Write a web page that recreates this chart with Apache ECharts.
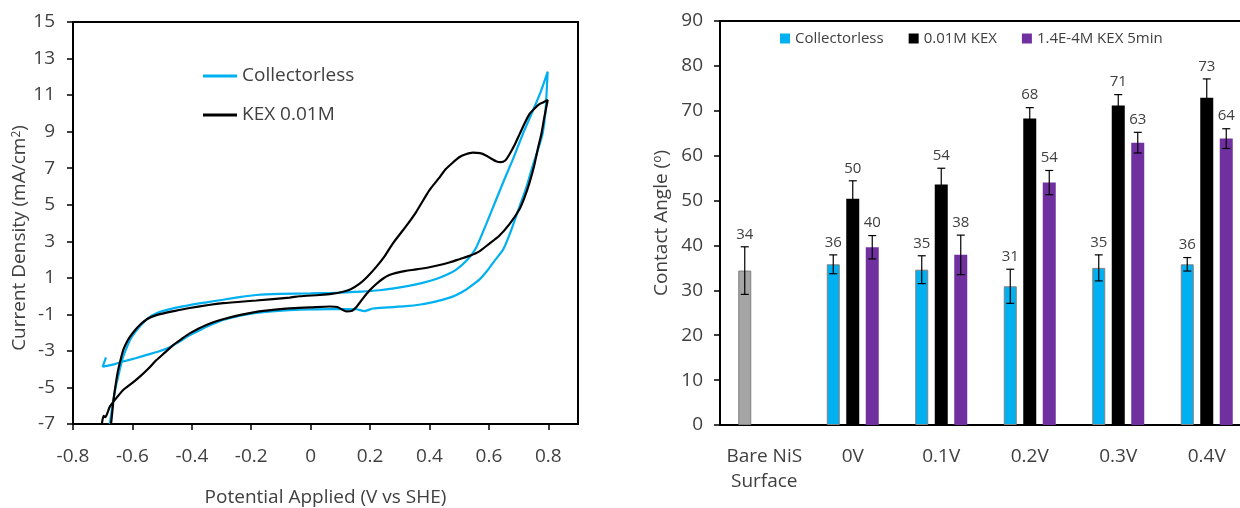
<!DOCTYPE html>
<html>
<head>
<meta charset="utf-8">
<script src="https://cdn.jsdelivr.net/npm/echarts@6/dist/echarts.min.js"></script>
<style>
html, body { margin: 0; padding: 0; background: #fff; }
#main { width: 1240px; height: 508px; }
</style>
</head>
<body>
<div id="main"></div>
<script>
// left panel: cyclic voltammograms [potential, current density]
var cvNames = ['Collectorless', 'KEX 0.01M'];
var collectorlessCV = [
    [-0.689, -3.35], [-0.700, -3.86], [-0.660, -3.72], [-0.631, -3.58], [-0.590, -3.40], [-0.552, -3.22],
    [-0.510, -3.02], [-0.474, -2.80], [-0.440, -2.48], [-0.407, -2.13], [-0.375, -1.88], [-0.351, -1.68],
    [-0.320, -1.47], [-0.295, -1.31], [-0.240, -1.09], [-0.183, -0.92], [-0.120, -0.82], [-0.071, -0.77],
    [0.000, -0.73], [0.064, -0.71], [0.120, -0.71], [0.154, -0.72], [0.181, -0.82], [0.210, -0.68],
    [0.260, -0.62], [0.321, -0.55], [0.370, -0.46], [0.400, -0.37], [0.440, -0.22], [0.478, -0.03],
    [0.510, 0.22], [0.534, 0.48], [0.568, 0.90], [0.595, 1.40], [0.620, 1.95], [0.648, 2.55],
    [0.675, 3.60], [0.703, 4.90], [0.725, 5.90], [0.747, 7.10], [0.765, 8.00], [0.781, 8.90],
    [0.790, 10.00], [0.798, 12.28], [0.775, 11.20], [0.747, 10.10], [0.715, 8.90], [0.680, 7.45],
    [0.650, 6.30], [0.624, 5.26], [0.590, 3.90], [0.557, 2.65], [0.525, 1.95], [0.490, 1.45],
    [0.456, 1.15], [0.420, 0.92], [0.380, 0.74], [0.330, 0.56], [0.280, 0.42], [0.232, 0.32],
    [0.170, 0.24], [0.120, 0.20], [0.060, 0.17], [0.000, 0.15], [-0.104, 0.12], [-0.183, 0.06],
    [-0.240, -0.06], [-0.295, -0.20], [-0.350, -0.34], [-0.407, -0.49], [-0.460, -0.66], [-0.519, -0.94],
    [-0.550, -1.25], [-0.575, -1.66], [-0.592, -2.00], [-0.608, -2.40], [-0.620, -2.85], [-0.631, -3.32],
    [-0.640, -3.85], [-0.648, -4.41], [-0.656, -4.95], [-0.662, -5.50], [-0.669, -6.20], [-0.676, -7.00]
];
var kexCV = [
    [-0.703, -7.00], [-0.697, -6.55], [-0.691, -6.62], [-0.683, -6.35], [-0.676, -6.05], [-0.655, -5.60],
    [-0.631, -5.14], [-0.600, -4.75], [-0.575, -4.41], [-0.545, -3.95], [-0.519, -3.50], [-0.490, -3.08],
    [-0.463, -2.68], [-0.435, -2.35], [-0.407, -2.04], [-0.351, -1.58], [-0.295, -1.27], [-0.240, -1.04],
    [-0.183, -0.86], [-0.120, -0.74], [-0.071, -0.67], [0.000, -0.62], [0.064, -0.57], [0.090, -0.60],
    [0.120, -0.84], [0.140, -0.80], [0.154, -0.60], [0.175, -0.15], [0.198, 0.30], [0.220, 0.65],
    [0.243, 0.95], [0.265, 1.15], [0.288, 1.27], [0.320, 1.38], [0.355, 1.46], [0.400, 1.58],
    [0.434, 1.70], [0.470, 1.85], [0.501, 2.02], [0.535, 2.20], [0.568, 2.45], [0.600, 2.85],
    [0.635, 3.30], [0.670, 3.95], [0.703, 4.75], [0.720, 5.40], [0.736, 6.17], [0.752, 7.10],
    [0.764, 8.00], [0.777, 8.90], [0.787, 9.82], [0.798, 10.73], [0.782, 10.60], [0.770, 10.50],
    [0.753, 10.25], [0.736, 9.95], [0.720, 9.45], [0.703, 8.85], [0.686, 8.25], [0.669, 7.75],
    [0.655, 7.42], [0.640, 7.33], [0.624, 7.38], [0.605, 7.55], [0.590, 7.70], [0.570, 7.82],
    [0.546, 7.85], [0.520, 7.75], [0.500, 7.60], [0.478, 7.30], [0.455, 6.95], [0.434, 6.50],
    [0.400, 5.80], [0.355, 4.60], [0.320, 3.80], [0.277, 2.89], [0.250, 2.20], [0.221, 1.60],
    [0.190, 1.05], [0.165, 0.68], [0.135, 0.38], [0.109, 0.24], [0.070, 0.12], [0.030, 0.06],
    [-0.037, -0.01], [-0.071, -0.08], [-0.183, -0.24], [-0.295, -0.39], [-0.407, -0.65], [-0.460, -0.82],
    [-0.519, -1.04], [-0.550, -1.25], [-0.575, -1.58], [-0.592, -1.88], [-0.608, -2.22], [-0.620, -2.55],
    [-0.631, -2.95], [-0.640, -3.50], [-0.648, -4.05], [-0.654, -4.60], [-0.659, -5.14], [-0.664, -5.70],
    [-0.667, -6.23], [-0.672, -7.00]
];

// right panel: contact angles
var surfaces = ['Bare NiS\nSurface', '0V', '0.1V', '0.2V', '0.3V', '0.4V'];
var barNames = ['Collectorless', '0.01M KEX', '1.4E-4M KEX 5min'];
var collectorlessAngle = [34.4, 35.8, 34.6, 30.9, 35.0, 35.8];
var collectorlessErr = [5.3, 2.1, 3.1, 3.8, 2.9, 1.5];
var kexAngle = [null, 50.4, 53.6, 68.3, 71.2, 72.9];
var kexErr = [null, 4.0, 3.6, 2.4, 2.4, 4.2];
var kex5Angle = [null, 39.6, 37.9, 54.0, 62.9, 63.8];
var kex5Err = [null, 2.6, 4.4, 2.7, 2.3, 2.2];

var font = 'Open Sans';
var txt = '#404040';
var cyan = '#00B0F0';
var purple = '#7030A0';

function errorBars(values, errs, shift) {
    var data = [];
    values.forEach(function (v, i) {
        if (v !== null) {
            data.push([i, v, errs[i]]);
        }
    });
    return {
        type: 'custom',
        xAxisIndex: 1,
        yAxisIndex: 1,
        z: 10,
        silent: true,
        data: data,
        encode: { x: 0, y: 1 },
        renderItem: function (params, api) {
            var v = api.value(1), e = api.value(2);
            var hi = api.coord([api.value(0), v + e]);
            var lo = api.coord([api.value(0), v - e]);
            var x = hi[0] + shift;
            var st = { stroke: '#000', lineWidth: 1.2 };
            return {
                type: 'group',
                children: [
                    { type: 'line', shape: { x1: x, y1: hi[1], x2: x, y2: lo[1] }, style: st },
                    { type: 'line', shape: { x1: x - 4, y1: hi[1], x2: x + 4, y2: hi[1] }, style: st },
                    { type: 'line', shape: { x1: x - 4, y1: lo[1], x2: x + 4, y2: lo[1] }, style: st },
                    {
                        type: 'text', x: x, y: hi[1] - 5,
                        style: {
                            text: String(Math.round(v)), fill: txt, fontSize: 15, fontFamily: font,
                            align: 'center', verticalAlign: 'bottom',
                            textAlign: 'center', textVerticalAlign: 'bottom'
                        }
                    }
                ]
            };
        }
    };
}

var myChart = echarts.init(document.getElementById('main'));

var option = {
    animation: false,
    textStyle: { fontFamily: font },
    grid: [
        { left: 73, top: 22, width: 505, height: 402, show: true, borderColor: '#000', borderWidth: 2, outerBoundsMode: 'none' },
        { left: 720, top: 21, width: 531, height: 404, show: true, borderColor: '#000', borderWidth: 2, outerBoundsMode: 'none' }
    ],
    legend: [
        {
            data: cvNames, orient: 'vertical', left: 203, top: 65, padding: 0,
            icon: 'rect', itemWidth: 34, itemHeight: 3, itemGap: 17,
            textStyle: { fontSize: 19, color: txt, lineHeight: 22, fontFamily: font }
        },
        {
            data: barNames, left: 780, top: 31, padding: 0,
            icon: 'rect', itemWidth: 10, itemHeight: 10, itemGap: 25,
            textStyle: { fontSize: 15, color: txt, fontFamily: font }
        }
    ],
    xAxis: [
        {
            type: 'value', gridIndex: 0, min: -0.8, max: 0.9, interval: 0.2,
            axisLine: { onZero: false, lineStyle: { color: '#000', width: 2 } },
            axisTick: { show: true, inside: false, length: 6, lineStyle: { color: '#000', width: 1.5 } },
            axisLabel: { margin: 23, fontSize: 19, color: txt, showMaxLabel: false },
            splitLine: { show: false },
            name: 'Potential Applied (V vs SHE)', nameLocation: 'middle', nameGap: 64,
            nameTextStyle: { fontSize: 19, color: txt }
        },
        {
            type: 'category', gridIndex: 1, data: surfaces,
            axisLine: { lineStyle: { color: '#000', width: 2 } },
            axisTick: { show: false },
            axisLabel: { margin: 19, fontSize: 19, color: txt, lineHeight: 25, interval: 0 },
            splitLine: { show: false }
        }
    ],
    yAxis: [
        {
            type: 'value', gridIndex: 0, min: -7, max: 15, interval: 2,
            axisLine: { show: true, onZero: false, lineStyle: { color: '#000', width: 2 } },
            axisTick: { show: true, inside: false, length: 6, lineStyle: { color: '#000', width: 1.5 } },
            axisLabel: { margin: 18, fontSize: 19, color: txt },
            splitLine: { show: false },
            name: 'Current Density (mA/cm{sup|2})', nameLocation: 'middle', nameGap: 42,
            nameTextStyle: {
                fontSize: 19, color: txt, padding: [0, 30, 0, 0],
                rich: { sup: { fontSize: 12, verticalAlign: 'top', color: txt, fontFamily: font } }
            }
        },
        {
            type: 'value', gridIndex: 1, min: 0, max: 90, interval: 10,
            axisLine: { show: true, lineStyle: { color: '#000', width: 2 } },
            axisTick: { show: true, inside: false, length: 6, lineStyle: { color: '#000', width: 1.5 } },
            axisLabel: { margin: 17, fontSize: 19, color: txt },
            splitLine: { show: false },
            name: 'Contact Angle ({sup|o})', nameLocation: 'middle', nameGap: 49,
            nameTextStyle: {
                fontSize: 19, color: txt,
                rich: { sup: { fontSize: 12, verticalAlign: 'top', color: txt, fontFamily: font } }
            }
        }
    ],
    series: [
        {
            type: 'line', name: cvNames[0], xAxisIndex: 0, yAxisIndex: 0,
            data: collectorlessCV, showSymbol: false, smooth: 0.2,
            lineStyle: { color: cyan, width: 2.2 }, itemStyle: { color: cyan }
        },
        {
            type: 'line', name: cvNames[1], xAxisIndex: 0, yAxisIndex: 0,
            data: kexCV, showSymbol: false, smooth: 0.2,
            lineStyle: { color: '#000', width: 2.2 }, itemStyle: { color: '#000' }
        },
        {
            type: 'bar', name: barNames[0], xAxisIndex: 1, yAxisIndex: 1,
            barWidth: 13, barGap: '50%',
            data: collectorlessAngle.map(function (v, i) {
                // bare surface drawn in grey
                return i === 0 ? { value: v, itemStyle: { color: '#A5A5A5' } } : v;
            }),
            itemStyle: { color: cyan, borderColor: '#808080', borderWidth: 1 }
        },
        {
            type: 'bar', name: barNames[1], xAxisIndex: 1, yAxisIndex: 1,
            barWidth: 13, barGap: '50%',
            data: kexAngle,
            itemStyle: { color: '#000' }
        },
        {
            type: 'bar', name: barNames[2], xAxisIndex: 1, yAxisIndex: 1,
            barWidth: 13, barGap: '50%',
            data: kex5Angle,
            itemStyle: { color: purple }
        },
        errorBars(collectorlessAngle, collectorlessErr, -19.5),
        errorBars(kexAngle, kexErr, 0),
        errorBars(kex5Angle, kex5Err, 19.5)
    ]
};

myChart.setOption(option);
</script>
</body>
</html>
